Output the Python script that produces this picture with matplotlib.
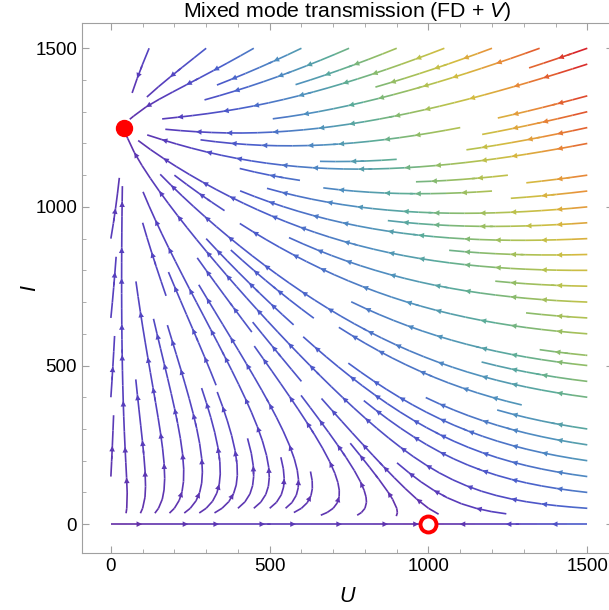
import numpy as np
import matplotlib
matplotlib.use("Agg")
import matplotlib.pyplot as plt
from matplotlib.colors import LinearSegmentedColormap, Normalize
from matplotlib.patches import FancyArrowPatch

# model parameters (logistic host, frequency-dependent + vertical transmission)
r = 1.0          # host growth rate
K = 1000.0       # carrying capacity
beta = 1.6       # frequency-dependent transmission
b_inf = 1.2993   # birth rate of infected hosts
p_vert = 0.9547  # fraction of offspring of infected hosts born infected

u_range = [0, 1500]
i_range = [0, 1500]

# equilibria
stable_pts = [(40, 1250)]
unstable_pts = [(1000, 0)]

x_ticks = [0, 500, 1000, 1500]
y_ticks = [0, 500, 1000, 1500]

# speed colour scale (Mathematica-like rainbow)
rainbow_pos = [0.0, 0.09, 0.18, 0.29, 0.38, 0.47, 0.57, 0.65, 0.76, 0.88, 1.0]
rainbow_col = ["#642ea6", "#5540bf", "#4a5fcc", "#4f8fc0", "#5aab9a",
               "#8cbc6a", "#b8c24e", "#d4bb40", "#e8913a", "#e25a2e",
               "#d8222a"]

ARROW_GAP = 125.0   # data units between arrow heads on one stream


def field(U, I):
    N = U + I
    N = np.where(N == 0, 1e-9, N)
    dU = r * U * (1 - N / K) + b_inf * (1 - p_vert) * I - beta * U * I / N
    dI = b_inf * p_vert * I - r * I * N / K + beta * U * I / N
    return dU, dI


def split_streams(segs):
    """Join consecutive 2-point segments back into whole streamlines"""
    streams = []
    cur = []
    for k, s in enumerate(segs):
        if cur and np.allclose(segs[k - 1][-1], s[0]):
            cur.append(k)
        else:
            if cur:
                streams.append(cur)
            cur = [k]
    if cur:
        streams.append(cur)
    return streams


u = np.linspace(u_range[0], u_range[1], 120)
i = np.linspace(i_range[0], i_range[1], 120)
UU, II = np.meshgrid(u, i)
dU, dI = field(UU, II)
speed = np.hypot(dU, dI)

cmap = LinearSegmentedColormap.from_list(
    "mma_rainbow", list(zip(rainbow_pos, rainbow_col)))
norm = Normalize(0, speed.max())

plt.rcParams['font.family'] = ['Liberation Sans', 'DejaVu Sans']
plt.rcParams['mathtext.fontset'] = 'custom'
plt.rcParams['mathtext.it'] = 'Liberation Sans:italic'
plt.rcParams['mathtext.rm'] = 'Liberation Sans'

fig = plt.figure(figsize=(6.09, 6.10), dpi=100)
ax = fig.add_axes([0.1346, 0.0934, 0.872, 0.8696])

res = ax.streamplot(UU, II, dU, dI, color=speed, cmap=cmap, norm=norm,
                    density=1.05, linewidth=1.2, arrowstyle='-',
                    arrowsize=0.1)

# Mathematica-style: several arrow heads along every stream
segs = res.lines.get_segments()
seg_vals = res.lines.get_array()
for idx in split_streams(segs):
    pts = np.vstack([segs[idx[0]][0]] + [segs[k][-1] for k in idx])
    d = np.hypot(*np.diff(pts, axis=0).T)
    cum = np.concatenate([[0], np.cumsum(d)])
    total = cum[-1]
    if total < 40:
        continue
    n_arr = max(1, int(total // ARROW_GAP))
    start = (total - (n_arr - 1) * ARROW_GAP) / 2
    for a in range(n_arr):
        s = start + a * ARROW_GAP
        j = min(np.searchsorted(cum, s), len(pts) - 1)
        j = max(j, 1)
        p0, p1 = pts[j - 1], pts[j]
        if np.allclose(p0, p1):
            continue
        col = cmap(norm(seg_vals[idx[min(j - 1, len(idx) - 1)]]))
        ax.add_patch(FancyArrowPatch(p0, p1, arrowstyle='-|>',
                                     mutation_scale=10, color=col, lw=0,
                                     shrinkA=0, shrinkB=0, zorder=3))

for (x0, y0) in stable_pts:
    ax.plot(x0, y0, 'o', ms=11.5, color='#ff0000', zorder=5)
for (x0, y0) in unstable_pts:
    ax.plot(x0, y0, 'o', ms=11.5, mfc='white', mec='#ff0000', mew=2.8, zorder=5)

ax.set_xlim(-91, 1581)
ax.set_ylim(-91, 1581)
ax.set_xticks(x_ticks)
ax.set_yticks(y_ticks)
ax.set_xticks(np.arange(0, 1600, 100), minor=True)
ax.set_yticks(np.arange(0, 1600, 100), minor=True)
ax.tick_params(which='both', direction='in', colors='#a0a0a0',
               labelcolor='black', labelsize=13.5, top=True, right=True)
ax.tick_params(which='major', length=5)
ax.tick_params(which='minor', length=3)
for s in ax.spines.values():
    s.set_color('#a0a0a0')

ax.set_xlabel('$U$', fontsize=15.5, labelpad=8)
ax.set_ylabel('$I$', fontsize=15.5, labelpad=-4, rotation=90)
ax.set_title('Mixed mode transmission (FD + $V$)', fontsize=15.3, pad=2.5)

fig.savefig('out.png', dpi=100)
